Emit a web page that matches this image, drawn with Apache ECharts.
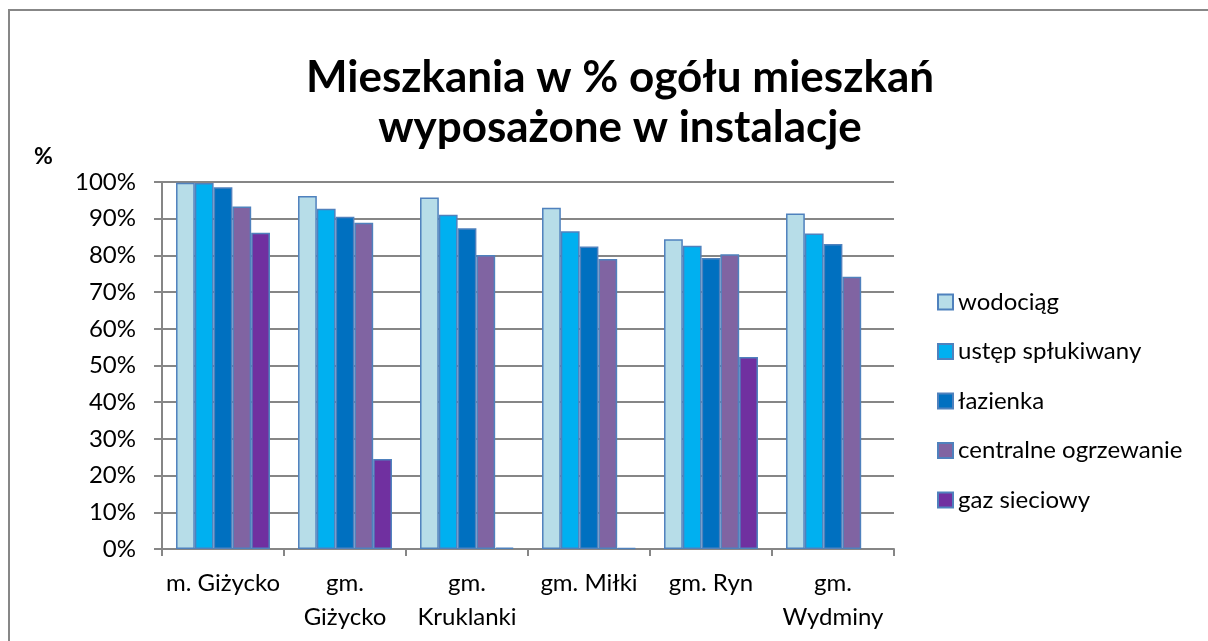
<!DOCTYPE html>
<html lang="pl">
<head>
  <meta charset="UTF-8">
  <title>Mieszkania wyposażone w instalacje</title>
  <script src="https://cdn.jsdelivr.net/npm/echarts@6/dist/echarts.min.js"></script>
  <style>
    html,body{margin:0;padding:0;background:#fff;}
    #chart{width:1208px;height:641px;}
  </style>
</head>
<body>
  <div id="chart"></div>
  <script>
    // dane
    var categories = ['m. Giżycko', 'gm.\nGiżycko', 'gm.\nKruklanki', 'gm. Miłki', 'gm. Ryn', 'gm.\nWydminy'];
    var wodociag = [99.8, 96.2, 95.8, 93.0, 84.4, 91.4];
    var ustep = [99.7, 92.7, 91.1, 86.6, 82.6, 86.0];
    var lazienka = [98.6, 90.5, 87.4, 82.4, 79.3, 83.1];
    var centralne = [93.3, 88.9, 80.1, 79.0, 80.3, 74.2];
    var gaz = [86.2, 24.5, 0.4, 0.3, 52.3, null];
    var yTicks = [0, 10, 20, 30, 40, 50, 60, 70, 80, 90, 100];

    var names = ['wodociąg', 'ustęp spłukiwany', 'łazienka', 'centralne ogrzewanie', 'gaz sieciowy'];
    var colors = ['#B7DDE8', '#00B0F0', '#0070C0', '#8064A2', '#7030A0'];
    var values = [wodociag, ustep, lazienka, centralne, gaz];
    var font = 'Lato, "Open Sans", sans-serif';

    var series = [];
    for (var i = 0; i < names.length; i++) {
      series.push({
        name: names[i],
        type: 'bar',
        data: values[i],
        barGap: '0%',
        barCategoryGap: '23%',
        itemStyle: { color: colors[i], borderColor: '#4F81BD', borderWidth: 1.5 }
      });
    }

    var myChart = echarts.init(document.getElementById('chart'));
    var option = {
      animation: false,
      backgroundColor: '#fff',
      title: {
        text: 'Mieszkania w % ogółu mieszkań\nwyposażone w instalacje',
        left: 615,
        textAlign: 'center',
        top: 48,
        textStyle: { fontFamily: font, fontSize: 44, fontWeight: 'bold', color: '#000', lineHeight: 50 }
      },
      graphic: [{
        type: 'rect',
        shape: { x: 9, y: 10, width: 1215, height: 650 },
        style: { fill: null, stroke: '#878787', lineWidth: 2 }
      }, {
        type: 'text',
        left: 34, top: 145,
        style: { text: '%', font: 'bold 23px ' + font, fill: '#000' }
      }],
      legend: {
        orient: 'vertical',
        left: 937,
        top: 290,
        padding: 0,
        itemWidth: 15,
        itemHeight: 15,
        itemGap: 25.5,
        icon: 'rect',
        textStyle: { fontFamily: font, fontSize: 24, color: '#000', padding: [0, 0, 0, 0] },
        data: names
      },
      grid: { left: 162, right: 314, top: 182, bottom: 92 },
      xAxis: {
        type: 'category',
        data: categories,
        axisLine: { lineStyle: { color: '#868686', width: 2 } },
        axisTick: { show: true, length: 7, lineStyle: { color: '#868686', width: 2 } },
        axisLabel: { fontFamily: font, fontSize: 24, color: '#000', margin: 17, lineHeight: 34, interval: 0 }
      },
      yAxis: {
        type: 'value',
        min: 0, max: 100, interval: 10,
        axisLine: { show: true, lineStyle: { color: '#868686', width: 2 } },
        axisTick: { show: true, length: 8, lineStyle: { color: '#868686', width: 2 } },
        splitLine: { lineStyle: { color: '#868686', width: 2 } },
        axisLabel: {
          fontFamily: font, fontSize: 24, color: '#000', margin: 26,
          formatter: function (v) { return yTicks.indexOf(v) >= 0 ? v + '%' : ''; }
        }
      },
      series: series
    };
    myChart.setOption(option);
  </script>
</body>
</html>
